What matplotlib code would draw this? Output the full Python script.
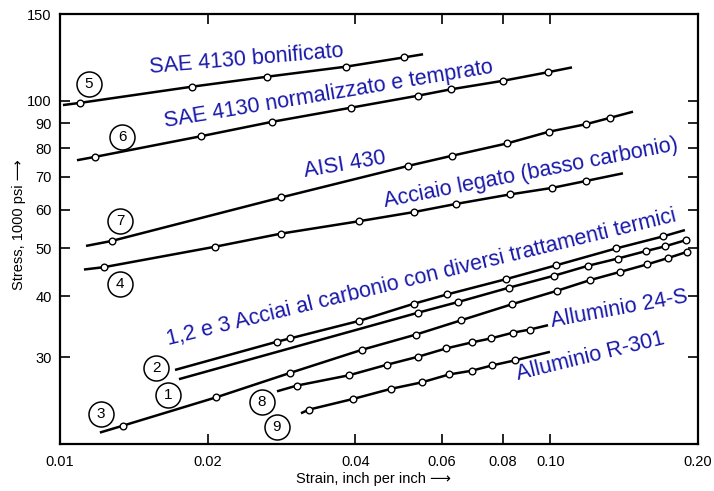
import numpy as np
import matplotlib.pyplot as plt
from matplotlib.ticker import NullLocator

plt.rcParams['font.family'] = ['Liberation Sans', 'DejaVu Sans']

# --- DATI ---
# curva 5: SAE 4130 bonificato
s5_x = [0.01098, 0.01858, 0.02643, 0.0383, 0.0503]
s5_y = [98.9, 106.7, 111.8, 117.2, 122.4]
s5_ends = [(0.01014, 97.9), (0.0550, 124.2)]

# curva 6: SAE 4130 normalizzato e temprato
s6_x = [0.01179, 0.01939, 0.02706, 0.03922, 0.0537, 0.0627, 0.0801, 0.0989]
s6_y = [76.8, 84.6, 90.5, 96.7, 102.3, 105.4, 109.7, 114.2]
s6_ends = [(0.01083, 75.6), (0.1107, 116.8)]

# curva 7: AISI 430
s7_x = [0.01276, 0.02823, 0.05124, 0.0630, 0.0816, 0.0993, 0.1182, 0.1323]
s7_y = [51.8, 63.5, 73.6, 77.2, 81.8, 86.4, 89.5, 92.2]
s7_ends = [(0.0113, 50.6), (0.1474, 94.9)]

# curva 4: acciaio legato
s4_x = [0.01229, 0.0207, 0.02823, 0.0407, 0.0527, 0.0642, 0.0827, 0.1008, 0.1182]
s4_y = [45.8, 50.4, 53.6, 56.8, 59.3, 61.6, 64.4, 66.4, 68.6]
s4_ends = [(0.01119, 45.3), (0.1406, 71.1)]

# curve 1, 2, 3: acciai al carbonio
s2_x = [0.0277, 0.02944, 0.0407, 0.0527, 0.0615, 0.0812, 0.1027, 0.1361, 0.1697]
s2_y = [32.3, 32.8, 35.6, 38.6, 40.3, 43.3, 46.2, 50.0, 52.9]
s2_ends = [(0.01716, 28.3), (0.1881, 54.5)]

s1_x = [0.0537, 0.0648, 0.0823, 0.1017, 0.1193, 0.1373, 0.1567, 0.1713, 0.1890]
s1_y = [37.0, 38.9, 41.6, 44.0, 46.1, 47.7, 49.4, 50.5, 52.0]
s1_ends = [(0.01748, 27.1), (0.1925, 52.3)]

s3_x = [0.01345, 0.02085, 0.02944, 0.04128, 0.0532, 0.0657, 0.0835, 0.1031,
        0.1204, 0.1387, 0.1574, 0.1737, 0.1899]
s3_y = [21.8, 24.9, 27.9, 31.1, 33.4, 35.7, 38.5, 41.0, 43.1, 44.8, 46.4, 47.8, 49.2]
s3_ends = [(0.01206, 21.1), (0.1930, 49.4)]

# curva 8: alluminio 24-S
s8_x = [0.03043, 0.03885, 0.04643, 0.0537, 0.0613, 0.0692, 0.0756, 0.0839, 0.0909]
s8_y = [26.3, 27.6, 29.0, 30.1, 31.3, 32.2, 32.8, 33.7, 34.2]
s8_ends = [(0.0277, 25.6), (0.0989, 34.9)]

# curva 9: alluminio R-301
s9_x = [0.0322, 0.0396, 0.0473, 0.0547, 0.0621, 0.0692, 0.0760, 0.0847]
s9_y = [23.5, 24.7, 25.9, 26.7, 27.7, 28.2, 28.9, 29.6]
s9_ends = [(0.0310, 23.1), (0.0998, 30.8)]

# numeri cerchiati
tag_text = ['5', '6', '7', '4', '2', '1', '3', '8', '9']
tag_x = [0.01146, 0.01338, 0.01326, 0.01326, 0.01570, 0.0166, 0.01212, 0.02581, 0.0277]
tag_y = [108.1, 84.2, 56.8, 42.3, 28.6, 25.2, 23.0, 24.4, 21.7]

# etichette blu
lbl_text = ['SAE 4130 bonificato',
            'SAE 4130 normalizzato e temprato',
            'AISI 430',
            'Acciaio legato (basso carbonio)',
            '1,2 e 3 Acciai al carbonio con diversi trattamenti termici',
            'Alluminio 24-S',
            'Alluminio R-301']
lbl_x = [0.01526, 0.01637, 0.03159, 0.0460, 0.0166, 0.1008, 0.0859]
lbl_y = [113.7, 88.3, 69.8, 60.7, 31.8, 34.6, 27.0]
lbl_rot = [4.8, 9.4, 9.5, 11, 13.7, 10.4, 13.8]

xticks = [0.01, 0.02, 0.04, 0.06, 0.08, 0.10, 0.20]
xtick_labels = ['0.01', '0.02', '0.04', '0.06', '0.08', '0.10', '0.20']
yticks = [30, 40, 50, 60, 70, 80, 90, 100, 150]

# --- PLOT ---
fig = plt.figure(figsize=(7.14, 4.91), dpi=100)
ax = fig.add_axes([60 / 714, 47 / 491, 638 / 714, 430 / 491])
ax.set_xscale('log')
ax.set_yscale('log')
ax.set_xlim(0.01, 0.2)
ax.set_ylim(20, 150)

series = [(s5_x, s5_y, s5_ends), (s6_x, s6_y, s6_ends), (s7_x, s7_y, s7_ends),
          (s4_x, s4_y, s4_ends), (s2_x, s2_y, s2_ends), (s1_x, s1_y, s1_ends),
          (s3_x, s3_y, s3_ends), (s8_x, s8_y, s8_ends), (s9_x, s9_y, s9_ends)]

for xs, ys, ends in series:
    lx = [ends[0][0]] + xs + [ends[1][0]]
    ly = [ends[0][1]] + ys + [ends[1][1]]
    ax.plot(lx, ly, color='black', lw=1.8, solid_capstyle='butt', zorder=2)
    ax.plot(xs, ys, 'o', ms=4.8, mfc='white', mec='black', mew=1.0, zorder=3)

ax.plot(tag_x, tag_y, 'o', ms=18, mfc='white', mec='black', mew=1.1,
        linestyle='none', zorder=3)
for t, x, y in zip(tag_text, tag_x, tag_y):
    ax.text(x, y, t, ha='center', va='center', fontsize=11, zorder=4)

for t, x, y, r in zip(lbl_text, lbl_x, lbl_y, lbl_rot):
    ax.text(x, y, t, color='#1818aa', fontsize=15.5, rotation=r,
            rotation_mode='anchor', ha='left', va='baseline', zorder=5)

ax.set_xticks(xticks)
ax.set_xticklabels(xtick_labels)
ax.set_yticks(yticks)
ax.set_yticklabels([str(v) for v in yticks])
ax.xaxis.set_minor_locator(NullLocator())
ax.yaxis.set_minor_locator(NullLocator())
ax.tick_params(which='both', direction='in', top=True, right=True,
               labeltop=False, labelright=False, length=7, width=1.2,
               labelsize=10.5)
ax.tick_params(axis='x', pad=8)
ax.tick_params(axis='y', pad=6)
for sp in ax.spines.values():
    sp.set_linewidth(1.6)

fig.text(19 / 714, 1 - 225 / 491, 'Stress, 1000 psi \u27f6', rotation=90,
         ha='center', va='center', fontsize=10.5)
fig.text(373 / 714, 1 - 479 / 491, 'Strain, inch per inch \u27f6',
         ha='center', va='center', fontsize=10.5)

fig.savefig('out.png', dpi=100)
